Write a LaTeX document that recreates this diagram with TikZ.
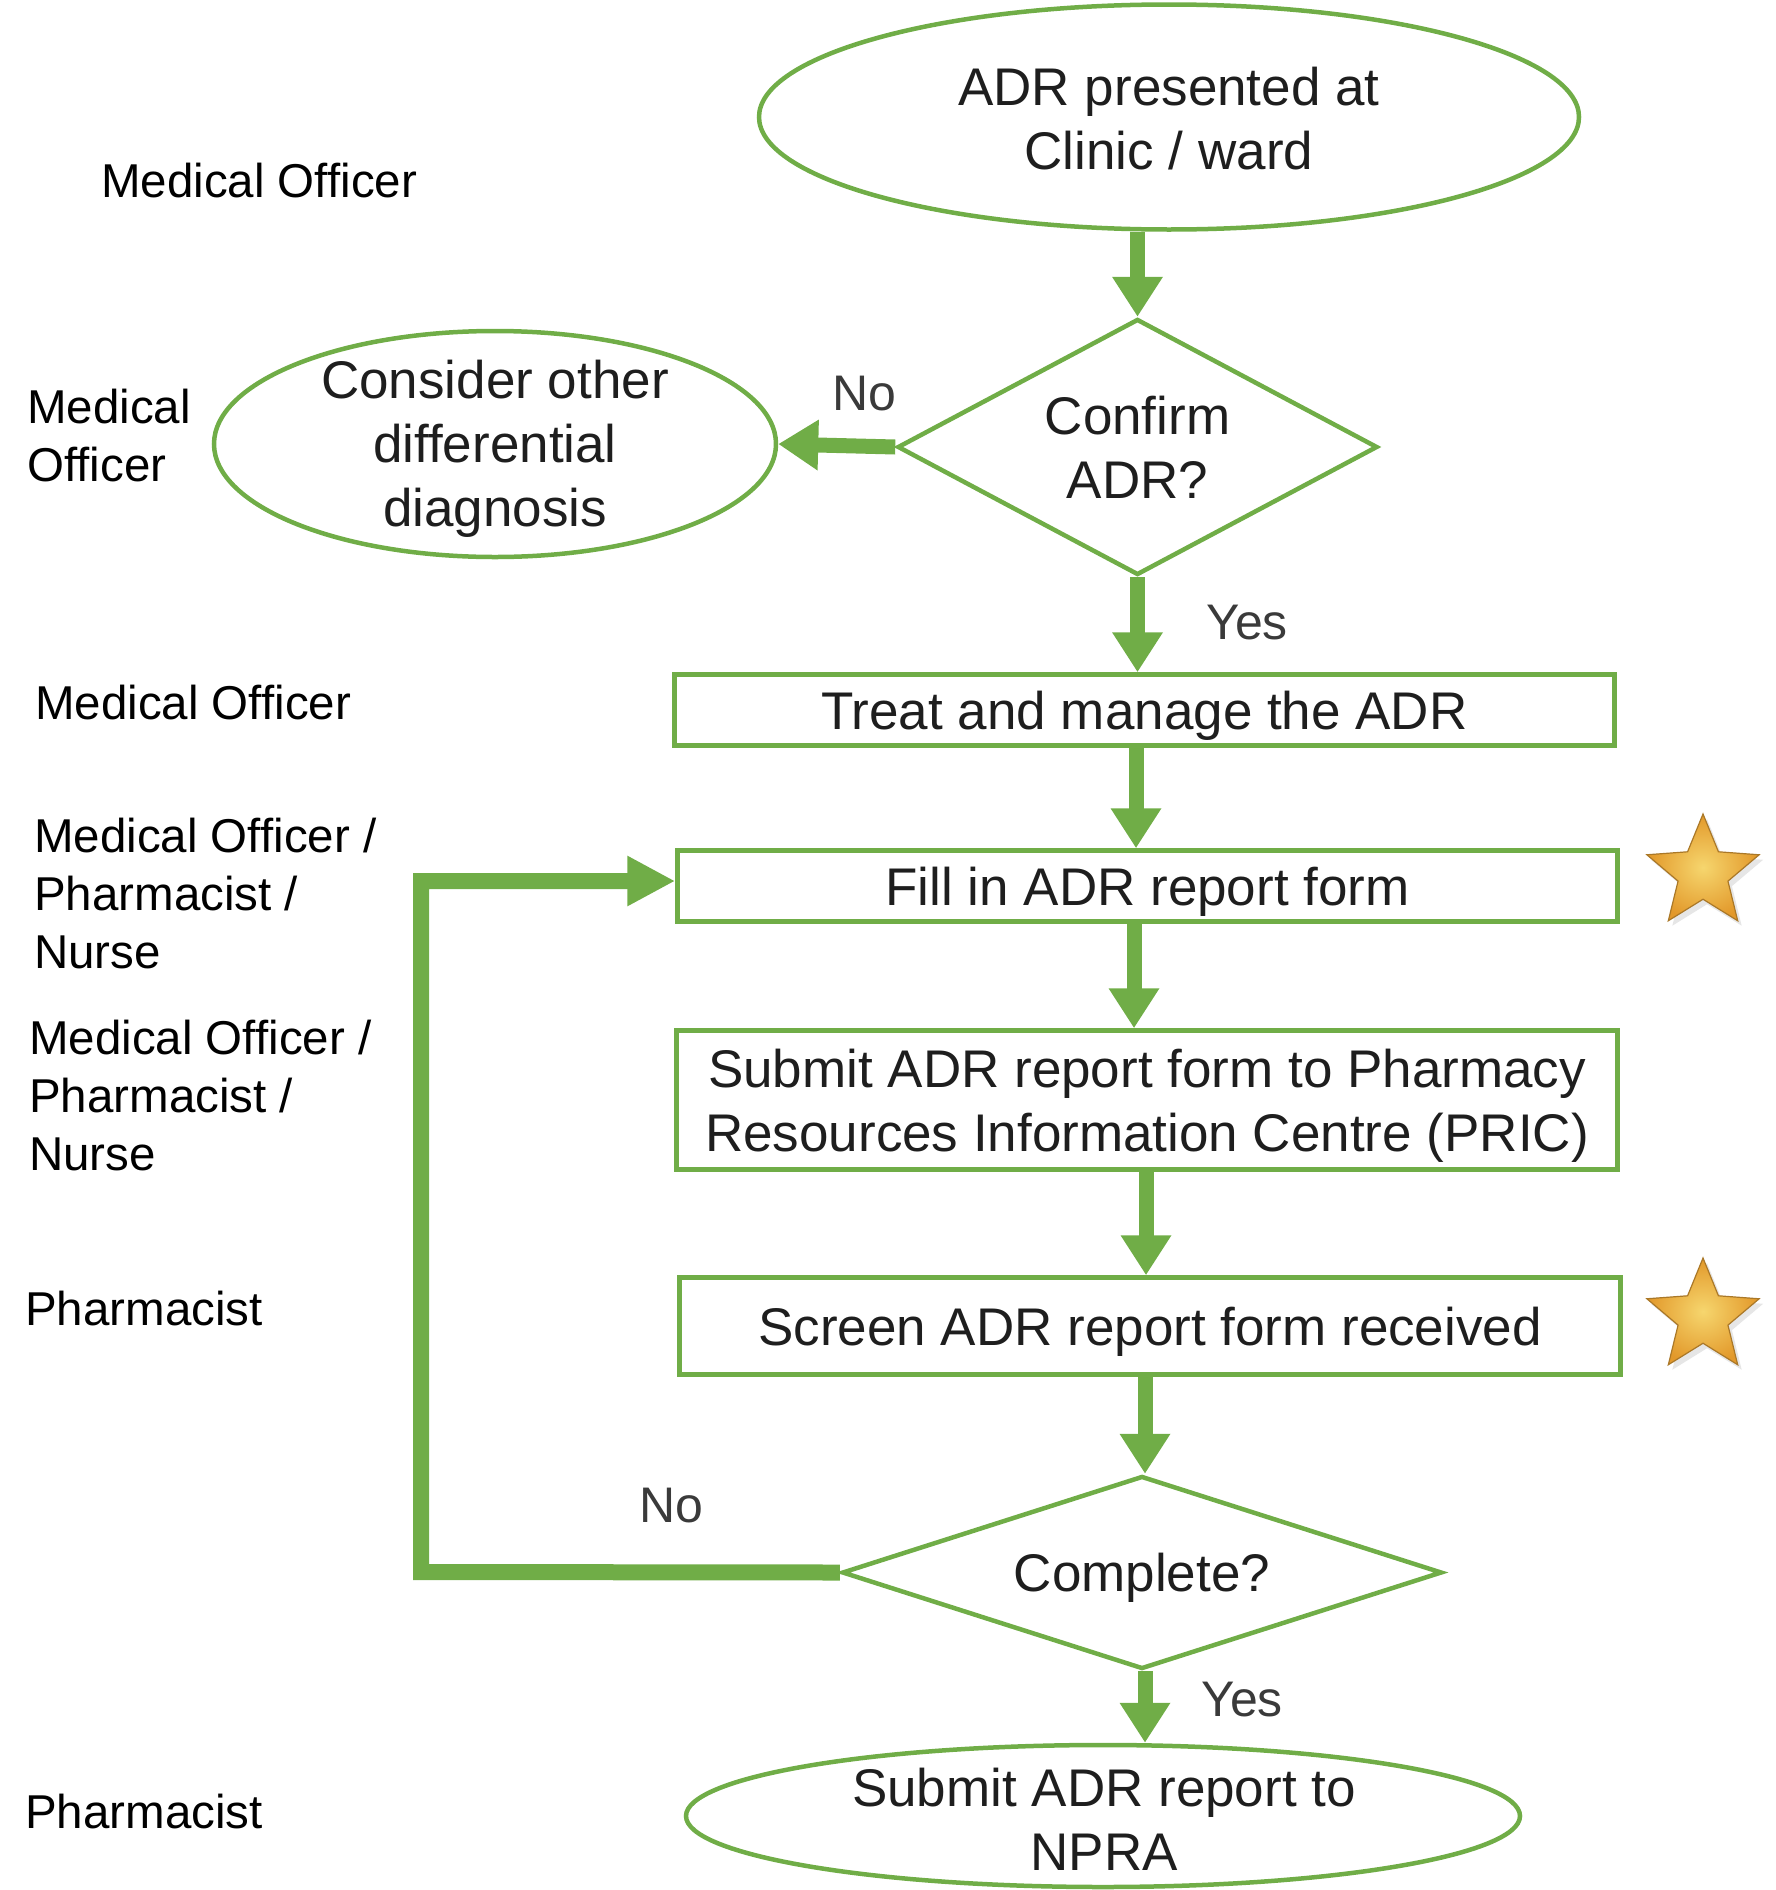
\documentclass[tikz,border=0pt]{standalone}
\usepackage{fontspec}
\setmainfont{Liberation Sans}
\usetikzlibrary{arrows.meta,shapes.geometric,shadows}
\definecolor{gr}{HTML}{70AD47}
\definecolor{txt}{HTML}{1E1E1E}
\definecolor{lbl}{HTML}{3A3A3A}
\definecolor{goldA}{RGB}{246,214,110}
\definecolor{goldB}{RGB}{226,152,42}
\definecolor{goldE}{RGB}{170,120,40}
\begin{document}
\begin{tikzpicture}[x=1pt,y=-1pt,
  shapeline/.style={draw=gr,line width=4.5pt},
  ell/.style={shapeline,ellipse,inner sep=0pt},
  dia/.style={shapeline,diamond,inner sep=0pt,text=txt,font=\fontsize{53}{64}\selectfont,align=center},
  boxn/.style={shapeline,rectangle,inner sep=0pt,text=txt,font=\fontsize{53}{64}\selectfont,align=center,text depth=0pt},
  big/.style={text=txt,font=\fontsize{53}{64}\selectfont,align=center,inner sep=0pt},
  role/.style={anchor=west,align=left,inner sep=0pt,text=black,font=\fontsize{47.5}{58}\selectfont},
  yn/.style={text=lbl,inner sep=0pt,font=\fontsize{50}{60}\selectfont},
  flow/.style={draw=gr,line width=15pt,-{Triangle[width=48pt,length=40pt]}},
  loopflow/.style={draw=gr,line width=16pt,line join=miter,-{Triangle[width=47pt,length=48pt]}},
  starn/.style={star,star points=5,star point ratio=2.25,minimum size=118pt,inner sep=0pt,
    draw=goldE,line width=1.2pt,inner color=goldA,outer color=goldB,
    drop shadow={opacity=0.2,shadow xshift=4pt,shadow yshift=-5pt}}
]
\useasboundingbox (0,0) rectangle (1775,1890);

% shapes
\node[ell,minimum width=820pt,minimum height=225pt] (e1) at (1169,117) {};
\node[big] (t1) at (1169,119) {ADR presented at\\Clinic / ward};

\node[dia,minimum width=480pt,minimum height=256pt,aspect=1.875] (d1) at (1137.5,447) {Confirm\\ADR?};

\node[ell,minimum width=562pt,minimum height=226pt] (e2) at (495,444) {};
\node[big] (t2) at (495,449) {Consider other\\differential\\diagnosis};

\node[boxn,minimum width=940pt,minimum height=71pt] (b1) at (1144.5,710) {Treat and manage the ADR};
\node[boxn,minimum width=940pt,minimum height=71pt] (b2) at (1147.5,886) {Fill in ADR report form};
\node[boxn,minimum width=941pt,minimum height=139pt] (b3) at (1147,1100) {Submit ADR report form to Pharmacy\\Resources Information Centre (PRIC)};
\node[boxn,minimum width=941pt,minimum height=97pt] (b4) at (1150,1326) {Screen ADR report form received};

\node[dia,minimum width=600pt,minimum height=193pt,aspect=3.1,text depth=0pt] (d2) at (1142,1572.5) {Complete?};

\node[ell,minimum width=834pt,minimum height=142pt] (e3) at (1103,1816) {};
\node[big] (t3) at (1104,1819) {Submit ADR report to\\NPRA};

% stars
\node[starn] (s1) at (1703,873) {};
\node[starn] (s2) at (1703,1317) {};

% connectors
\draw[flow] (d1.north |- e1.south) -- (d1.north);
\draw[flow] (d1.west) -- (e2.east);
\draw[flow] (d1.south) -- (d1.south |- b1.north);
\draw[flow] ([xshift=-8.5pt]b1.south) -- ([xshift=-8.5pt]b1.south |- b2.north);
\draw[flow] ([xshift=-13.5pt]b2.south) -- ([xshift=-13.5pt]b2.south |- b3.north);
\draw[flow] ([xshift=-1pt]b3.south) -- ([xshift=-1pt]b3.south |- b4.north);
\draw[flow] ([xshift=-5pt]b4.south) -- ([xshift=-5pt]b4.south |- d2.north);
\draw[flow] ([xshift=3pt]d2.south) -- ([xshift=3pt]d2.south |- e3.north);
\coordinate (lc) at (421,1572);
\draw[loopflow] (d2.west) -- (lc) |- ([yshift=5pt]b2.west);

% yes/no labels
\node[yn] (n1) at (864,394) {No};
\node[yn] (y1) at (1247,623) {Yes};
\node[yn] (n2) at (671,1506) {No};
\node[yn] (y2) at (1242,1700) {Yes};

% roles
\node[role] (r1) at (101,181) {Medical Officer};
\node[role] (r2) at (27,436) {Medical\\Officer};
\node[role] (r3) at (35,703) {Medical Officer};
\node[role] (r4) at (34,894) {Medical Officer /\\Pharmacist /\\Nurse};
\node[role] (r5) at (29,1096) {Medical Officer /\\Pharmacist /\\Nurse};
\node[role] (r6) at (25,1309) {Pharmacist};
\node[role] (r7) at (25,1811) {Pharmacist};
\end{tikzpicture}
\end{document}
